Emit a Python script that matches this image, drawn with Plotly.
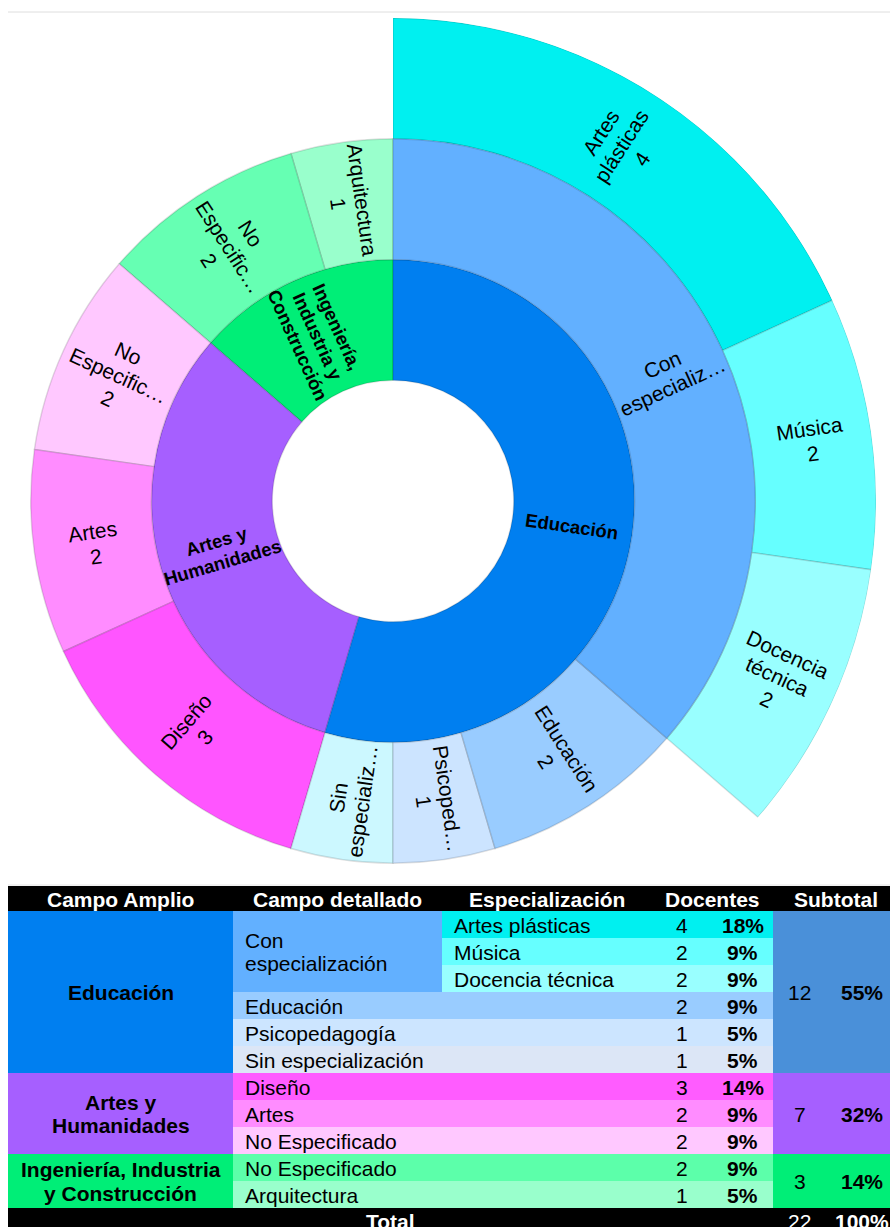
import math
import plotly.graph_objects as go

# ---------------------------------------------------------------- data
amplio = ["Educación", "Artes y Humanidades", "Ingeniería, Industria y Construcción"]
amplio_anillo = [["Educación"], ["Artes y", "Humanidades"], ["Ingeniería,", "Industria y", "Construcción"]]
amplio_tabla = [["Educación"], ["Artes y", "Humanidades"], ["Ingeniería, Industria", "y Construcción"]]
amplio_color = ["#007FF0", "#A65FFF", "#00EE77"]
subtotal_color = ["#4A90D9", "#A65FFF", "#00EE77"]

detallado = ["Con especialización", "Educación", "Psicopedagogía", "Sin especialización",
             "Diseño", "Artes", "No Especificado", "No Especificado", "Arquitectura"]
detallado_amplio = [0, 0, 0, 0, 1, 1, 1, 2, 2]
detallado_docentes = [None, 2, 1, 1, 3, 2, 2, 2, 1]
detallado_anillo = [["Con", "especializ…"], ["Educación"], ["Psicoped…"], ["Sin", "especializ…"],
                    ["Diseño"], ["Artes"], ["No", "Especific…"], ["No", "Especific…"], ["Arquitectura"]]
detallado_con_valor = [False, True, True, False, True, True, True, True, True]
detallado_tabla = [["Con", "especialización"], ["Educación"], ["Psicopedagogía"], ["Sin especialización"],
                   ["Diseño"], ["Artes"], ["No Especificado"], ["No Especificado"], ["Arquitectura"]]
detallado_color = ["#62B0FF", "#99CCFF", "#CCE4FF", "#CCF8FF",
                   "#FF55FF", "#FF8CFF", "#FFC8FF", "#66FFB3", "#99FFCC"]
detallado_color_tabla = ["#62B0FF", "#99CCFF", "#CCE5FF", "#DCE6F6",
                         "#FF5CFF", "#FF8CFF", "#FFC8FF", "#5CFFAA", "#99FFCC"]

especializacion = ["Artes plásticas", "Música", "Docencia técnica"]
especializacion_docentes = [4, 2, 2]
especializacion_anillo = [["Artes", "plásticas"], ["Música"], ["Docencia", "técnica"]]
especializacion_color = ["#00F0F0", "#66FFFF", "#99FFFF"]
especializacion_detallado = 0   # children of "Con especialización"

encabezados = ["Campo Amplio", "Campo detallado", "Especialización", "Docentes", "Subtotal"]

# ---------------------------------------------------------------- derived values
det_vals = list(detallado_docentes)
det_vals[especializacion_detallado] = sum(especializacion_docentes)
amp_vals = [sum(v for v, a in zip(det_vals, detallado_amplio) if a == k) for k in range(len(amplio))]
total = sum(amp_vals)


def pct(v):
    return f"{round(100 * v / total)}%"


W, H = 890, 1227
FONT = "Liberation Sans, Arial, sans-serif"
SIZE_INNER, SIZE_OUTER, SIZE_TABLE = 18.5, 21, 21
EDGE = "rgba(0,0,0,0.13)"

# donut geometry (pixels)
CX, CY = 393, 501
R_OUT = 483
RING = R_OUT / 4


def px_x(x):
    return x / W


def px_y(y):
    return 1 - y / H


annotations = []
shapes = []


def text_lines(lines, x, y, size, bold=False, color="black", angle=0, anchor="center", spacing=1.18):
    """Stack lines of text around (x, y) in pixels, rotated by `angle` (clockwise)."""
    step = spacing * size
    a = math.radians(angle)
    n = len(lines)
    for i, s in enumerate(lines):
        off = (i - (n - 1) / 2) * step
        xi = x - off * math.sin(a)
        yi = y + off * math.cos(a)
        annotations.append(dict(
            x=px_x(xi), y=px_y(yi), xref="paper", yref="paper", showarrow=False,
            text=f"<b>{s}</b>" if bold else s, textangle=angle,
            xanchor=anchor, yanchor="middle",
            font=dict(family=FONT, size=size, color=color),
        ))


def sector_label(lines, start_deg, span_deg, ring, size, bold=False):
    """Radially oriented label at the middle of a ring sector (angles clockwise from 12 o'clock)."""
    phi = 90 - (start_deg + span_deg / 2)
    r = (ring + 0.5) * RING
    x = CX + r * math.cos(math.radians(phi))
    y = CY - r * math.sin(math.radians(phi))
    ang = -phi if math.cos(math.radians(phi)) >= -1e-9 else 180 - phi
    ang = (ang + 180) % 360 - 180
    text_lines(lines, x, y, size, bold=bold, angle=ang)


# ---------------------------------------------------------------- inner rings (sunburst)
# Plotly lays out sunburst sectors counterclockwise, so feed the hierarchy in reverse
# order and start at 12 o'clock to read clockwise.
amp_order = list(range(len(amplio)))[::-1]
det_order = list(range(len(detallado)))[::-1]
ids = ["total"] + [f"a{k}" for k in amp_order] + [f"d{k}" for k in det_order]
parents = [""] + ["total"] * len(amplio) + [f"a{detallado_amplio[k]}" for k in det_order]
labels = ["Total"] + [amplio[k] for k in amp_order] + [detallado[k] for k in det_order]
values = [total] + [amp_vals[k] for k in amp_order] + [det_vals[k] for k in det_order]
colors = ["#FFFFFF"] + [amplio_color[k] for k in amp_order] + [detallado_color[k] for k in det_order]
line_colors = ["#FFFFFF"] + [EDGE] * (len(amplio) + len(detallado))

r_sb = 3 * RING
fig = go.Figure()
fig.add_trace(go.Sunburst(
    ids=ids, parents=parents, labels=labels, values=values,
    branchvalues="total", sort=False, rotation=90,
    textinfo="none", leaf=dict(opacity=1),
    marker=dict(colors=colors, line=dict(color=line_colors, width=1.5)),
    domain=dict(x=[px_x(CX - r_sb), px_x(CX + r_sb)], y=[px_y(CY + r_sb), px_y(CY - r_sb)]),
    hoverinfo="label+value",
))

# labels of the two inner rings (clockwise from 12 o'clock)
a_start = 0.0
for k in range(len(amplio)):
    a_span = 360 * amp_vals[k] / total
    sector_label(amplio_anillo[k], a_start, a_span, 1, SIZE_INNER, bold=True)
    d_start = a_start
    for d in range(len(detallado)):
        if detallado_amplio[d] != k:
            continue
        d_span = 360 * det_vals[d] / total
        lines = detallado_anillo[d] + ([str(det_vals[d])] if detallado_con_valor[d] else [])
        sector_label(lines, d_start, d_span, 2, SIZE_OUTER)
        d_start += d_span
    a_start += a_span

# ---------------------------------------------------------------- outer ring (barpolar on the right half)
start = 0.0
thetas, widths = [], []
for v in especializacion_docentes:
    w = 360 * v / total
    thetas.append(start + w / 2)
    widths.append(w)
    start += w

fig.add_trace(go.Barpolar(
    theta=thetas, width=widths, r=[1] * len(especializacion), base=[3] * len(especializacion),
    marker=dict(color=especializacion_color, line=dict(color=EDGE, width=1.5)),
    text=especializacion, hoverinfo="text", subplot="polar",
))

for lab, v, th, w in zip(especializacion_anillo, especializacion_docentes, thetas, widths):
    sector_label(lab + [str(v)], th - w / 2, w, 3, SIZE_OUTER)

fig.update_layout(
    polar=dict(
        domain=dict(x=[px_x(CX), px_x(CX + R_OUT)], y=[px_y(CY + R_OUT), px_y(CY - R_OUT)]),
        sector=[-90, 90], hole=0, bgcolor="rgba(0,0,0,0)",
        radialaxis=dict(range=[0, 4], visible=False, showgrid=False),
        angularaxis=dict(rotation=90, direction="clockwise", visible=False, showgrid=False),
    )
)

# ---------------------------------------------------------------- table
COLS = [8, 233, 442, 652, 712, 773, 826, 898]
HEAD_TOP, HEAD_H, ROW_H = 886, 25, 27
ROW0 = HEAD_TOP + HEAD_H
TABLE_SPACING = 1.1


def cell(x0, x1, y0, y1, color):
    shapes.append(dict(type="rect", xref="paper", yref="paper",
                       x0=px_x(x0), x1=px_x(x1), y0=px_y(y1), y1=px_y(y0),
                       fillcolor=color, line=dict(width=0), layer="above"))


def tlabel(lines, x, y, bold=False, color="black", anchor="center"):
    if isinstance(lines, str):
        lines = [lines]
    text_lines(lines, x, y + 0.5, SIZE_TABLE, bold=bold, color=color, anchor=anchor,
               spacing=TABLE_SPACING)


# header
cell(COLS[0], COLS[-1], HEAD_TOP, ROW0, "#000000")
head_spans = [(0, 1), (1, 2), (2, 3), (3, 5), (5, 7)]
for txt, (a, b) in zip(encabezados, head_spans):
    tlabel(txt, (COLS[a] + COLS[b]) / 2, ROW0 - HEAD_H / 2, bold=True, color="white")

# body rows
row = 0
for k in range(len(amplio)):
    amp_start = row
    for d in range(len(detallado)):
        if detallado_amplio[d] != k:
            continue
        y0 = ROW0 + row * ROW_H
        if d == especializacion_detallado:
            n = len(especializacion)
            cell(COLS[1], COLS[2], y0, y0 + n * ROW_H, detallado_color_tabla[d])
            tlabel(detallado_tabla[d], COLS[1] + 10, y0 + n * ROW_H / 2, anchor="left")
            for s in range(n):
                ys = ROW0 + row * ROW_H
                cell(COLS[2], COLS[5], ys, ys + ROW_H, especializacion_color[s])
                tlabel(especializacion[s], COLS[2] + 10, ys + ROW_H / 2, anchor="left")
                tlabel(str(especializacion_docentes[s]), (COLS[3] + COLS[4]) / 2, ys + ROW_H / 2)
                tlabel(pct(especializacion_docentes[s]), (COLS[4] + COLS[5]) / 2, ys + ROW_H / 2, bold=True)
                row += 1
        else:
            cell(COLS[1], COLS[5], y0, y0 + ROW_H, detallado_color_tabla[d])
            tlabel(detallado_tabla[d], COLS[1] + 10, y0 + ROW_H / 2, anchor="left")
            tlabel(str(det_vals[d]), (COLS[3] + COLS[4]) / 2, y0 + ROW_H / 2)
            tlabel(pct(det_vals[d]), (COLS[4] + COLS[5]) / 2, y0 + ROW_H / 2, bold=True)
            row += 1
    ya, yb = ROW0 + amp_start * ROW_H, ROW0 + row * ROW_H
    cell(COLS[0], COLS[1], ya, yb, amplio_color[k])
    tlabel(amplio_tabla[k], (COLS[0] + COLS[1]) / 2, (ya + yb) / 2, bold=True)
    cell(COLS[5], COLS[7], ya, yb, subtotal_color[k])
    tlabel(str(amp_vals[k]), (COLS[5] + COLS[6]) / 2, (ya + yb) / 2)
    tlabel(pct(amp_vals[k]), (COLS[6] + COLS[7]) / 2, (ya + yb) / 2, bold=True)

# total row
yt = ROW0 + row * ROW_H
cell(COLS[0], COLS[-1], yt, yt + ROW_H, "#000000")
tlabel("Total", (COLS[0] + COLS[5]) / 2, yt + ROW_H / 2 - 1, bold=True, color="white")
tlabel(str(total), (COLS[5] + COLS[6]) / 2, yt + ROW_H / 2 - 1, color="white")
tlabel(pct(total), (COLS[6] + COLS[7]) / 2, yt + ROW_H / 2 - 1, bold=True, color="white")

# thin rules
shapes.append(dict(type="line", xref="paper", yref="paper", x0=px_x(8), x1=1, y0=px_y(12), y1=px_y(12),
                   line=dict(color="#DEDEDE", width=1)))
shapes.append(dict(type="line", xref="paper", yref="paper", x0=px_x(8), x1=1, y0=px_y(HEAD_TOP - 1),
                   y1=px_y(HEAD_TOP - 1), line=dict(color="#E4E4E4", width=1)))

fig.update_layout(
    width=W, height=H, margin=dict(l=0, r=0, t=0, b=0),
    paper_bgcolor="white", plot_bgcolor="white", showlegend=False,
    annotations=annotations, shapes=shapes,
    font=dict(family=FONT),
)

fig.write_html("out.html")
